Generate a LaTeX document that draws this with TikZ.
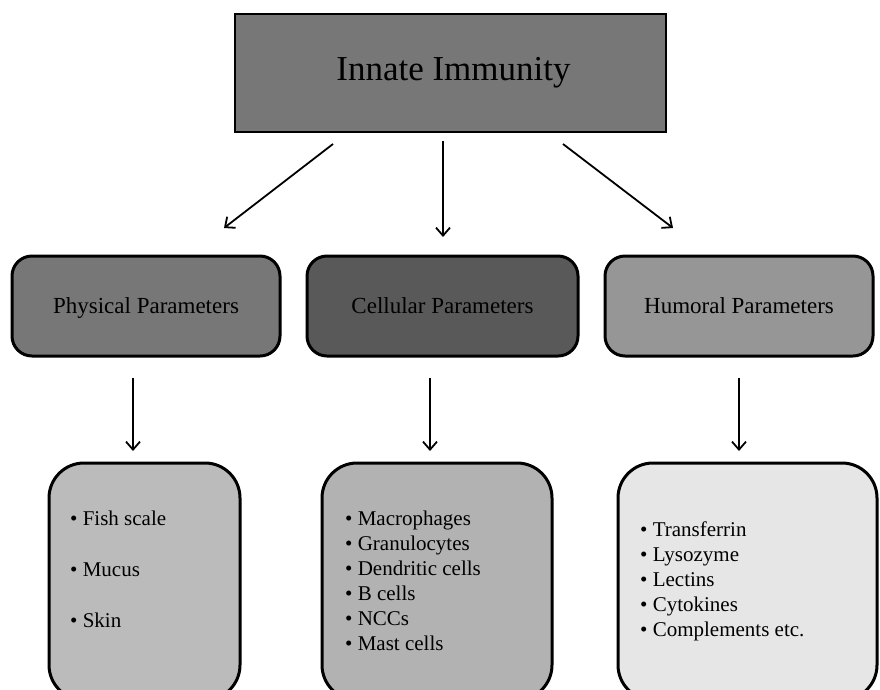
\documentclass[tikz,border=0pt]{standalone}
\usepackage{fontspec}
\setmainfont{Liberation Serif}
\usetikzlibrary{arrows.meta}
\definecolor{gtop}{HTML}{777777}
\definecolor{gphys}{HTML}{777777}
\definecolor{gcell}{HTML}{595959}
\definecolor{ghum}{HTML}{969696}
\definecolor{gone}{HTML}{BBBBBB}
\definecolor{gtwo}{HTML}{B2B2B2}
\definecolor{gthree}{HTML}{E6E6E6}
\begin{document}
\begin{tikzpicture}[x=1pt,y=-1pt,
  topbox/.style={draw=black, line width=2pt, fill=gtop, minimum width=431pt, minimum height=118pt, inner sep=0pt, font=\fontsize{35}{40}\selectfont},
  midbox/.style={draw=black, line width=3pt, rounded corners=20pt, minimum height=100pt, inner sep=0pt, text depth=0pt, font=\fontsize{23}{27}\selectfont},
  lowbox/.style={draw=black, line width=3pt, rounded corners=35pt, minimum height=237pt, inner sep=0pt},
  itemtext/.style={align=left, anchor=west, inner sep=0pt, font=\fontsize{21}{25}\selectfont},
  arr/.style={-{Straight Barb[length=8pt,width=14pt]}, line width=1.8pt}]
\useasboundingbox (0,0) rectangle (880,689);
\clip (0,0) rectangle (880,689);
\node[topbox] (top) at (450.5,73) {\hspace*{6pt}Innate Immunity};
\node[midbox, fill=gphys, minimum width=268pt] (phys) at (146,306) {Physical Parameters};
\node[midbox, fill=gcell, minimum width=271pt] (cell) at (442.5,306) {Cellular Parameters};
\node[midbox, fill=ghum, minimum width=268pt] (hum) at (739,306) {Humoral Parameters};
\node[lowbox, fill=gone, minimum width=191pt] (b1) at (144.5,581.5) {};
\node[lowbox, fill=gtwo, minimum width=230pt] (b2) at (437,581.5) {};
\node[lowbox, fill=gthree, minimum width=259pt] (b3) at (747.5,581.5) {};
\node[itemtext, font=\fontsize{21}{51}\selectfont] (t1) at (70,569) {• Fish scale\\• Mucus\\• Skin};
\node[itemtext] (t2) at (345,580.5) {• Macrophages\\• Granulocytes\\• Dendritic cells\\• B cells\\• NCCs\\• Mast cells};
\node[itemtext] (t3) at (640,581) {• Transferrin\\• Lysozyme\\• Lectins\\• Cytokines\\• Complements etc.};
\coordinate (a1s) at (333,144); \coordinate (a1e) at (224,228);
\coordinate (a2s) at (443,141); \coordinate (a2e) at (443,237);
\coordinate (a3s) at (563,144); \coordinate (a3e) at (673,228);
\coordinate (b1s) at (133,378); \coordinate (b1e) at (133,451);
\coordinate (b2s) at (430,378); \coordinate (b2e) at (430,451);
\coordinate (b3s) at (739,378); \coordinate (b3e) at (739,451);
\draw[arr] (a1s) -- (a1e);
\draw[arr] (a2s) -- (a2e);
\draw[arr] (a3s) -- (a3e);
\draw[arr] (b1s) -- (b1e);
\draw[arr] (b2s) -- (b2e);
\draw[arr] (b3s) -- (b3e);
\end{tikzpicture}
\end{document}
